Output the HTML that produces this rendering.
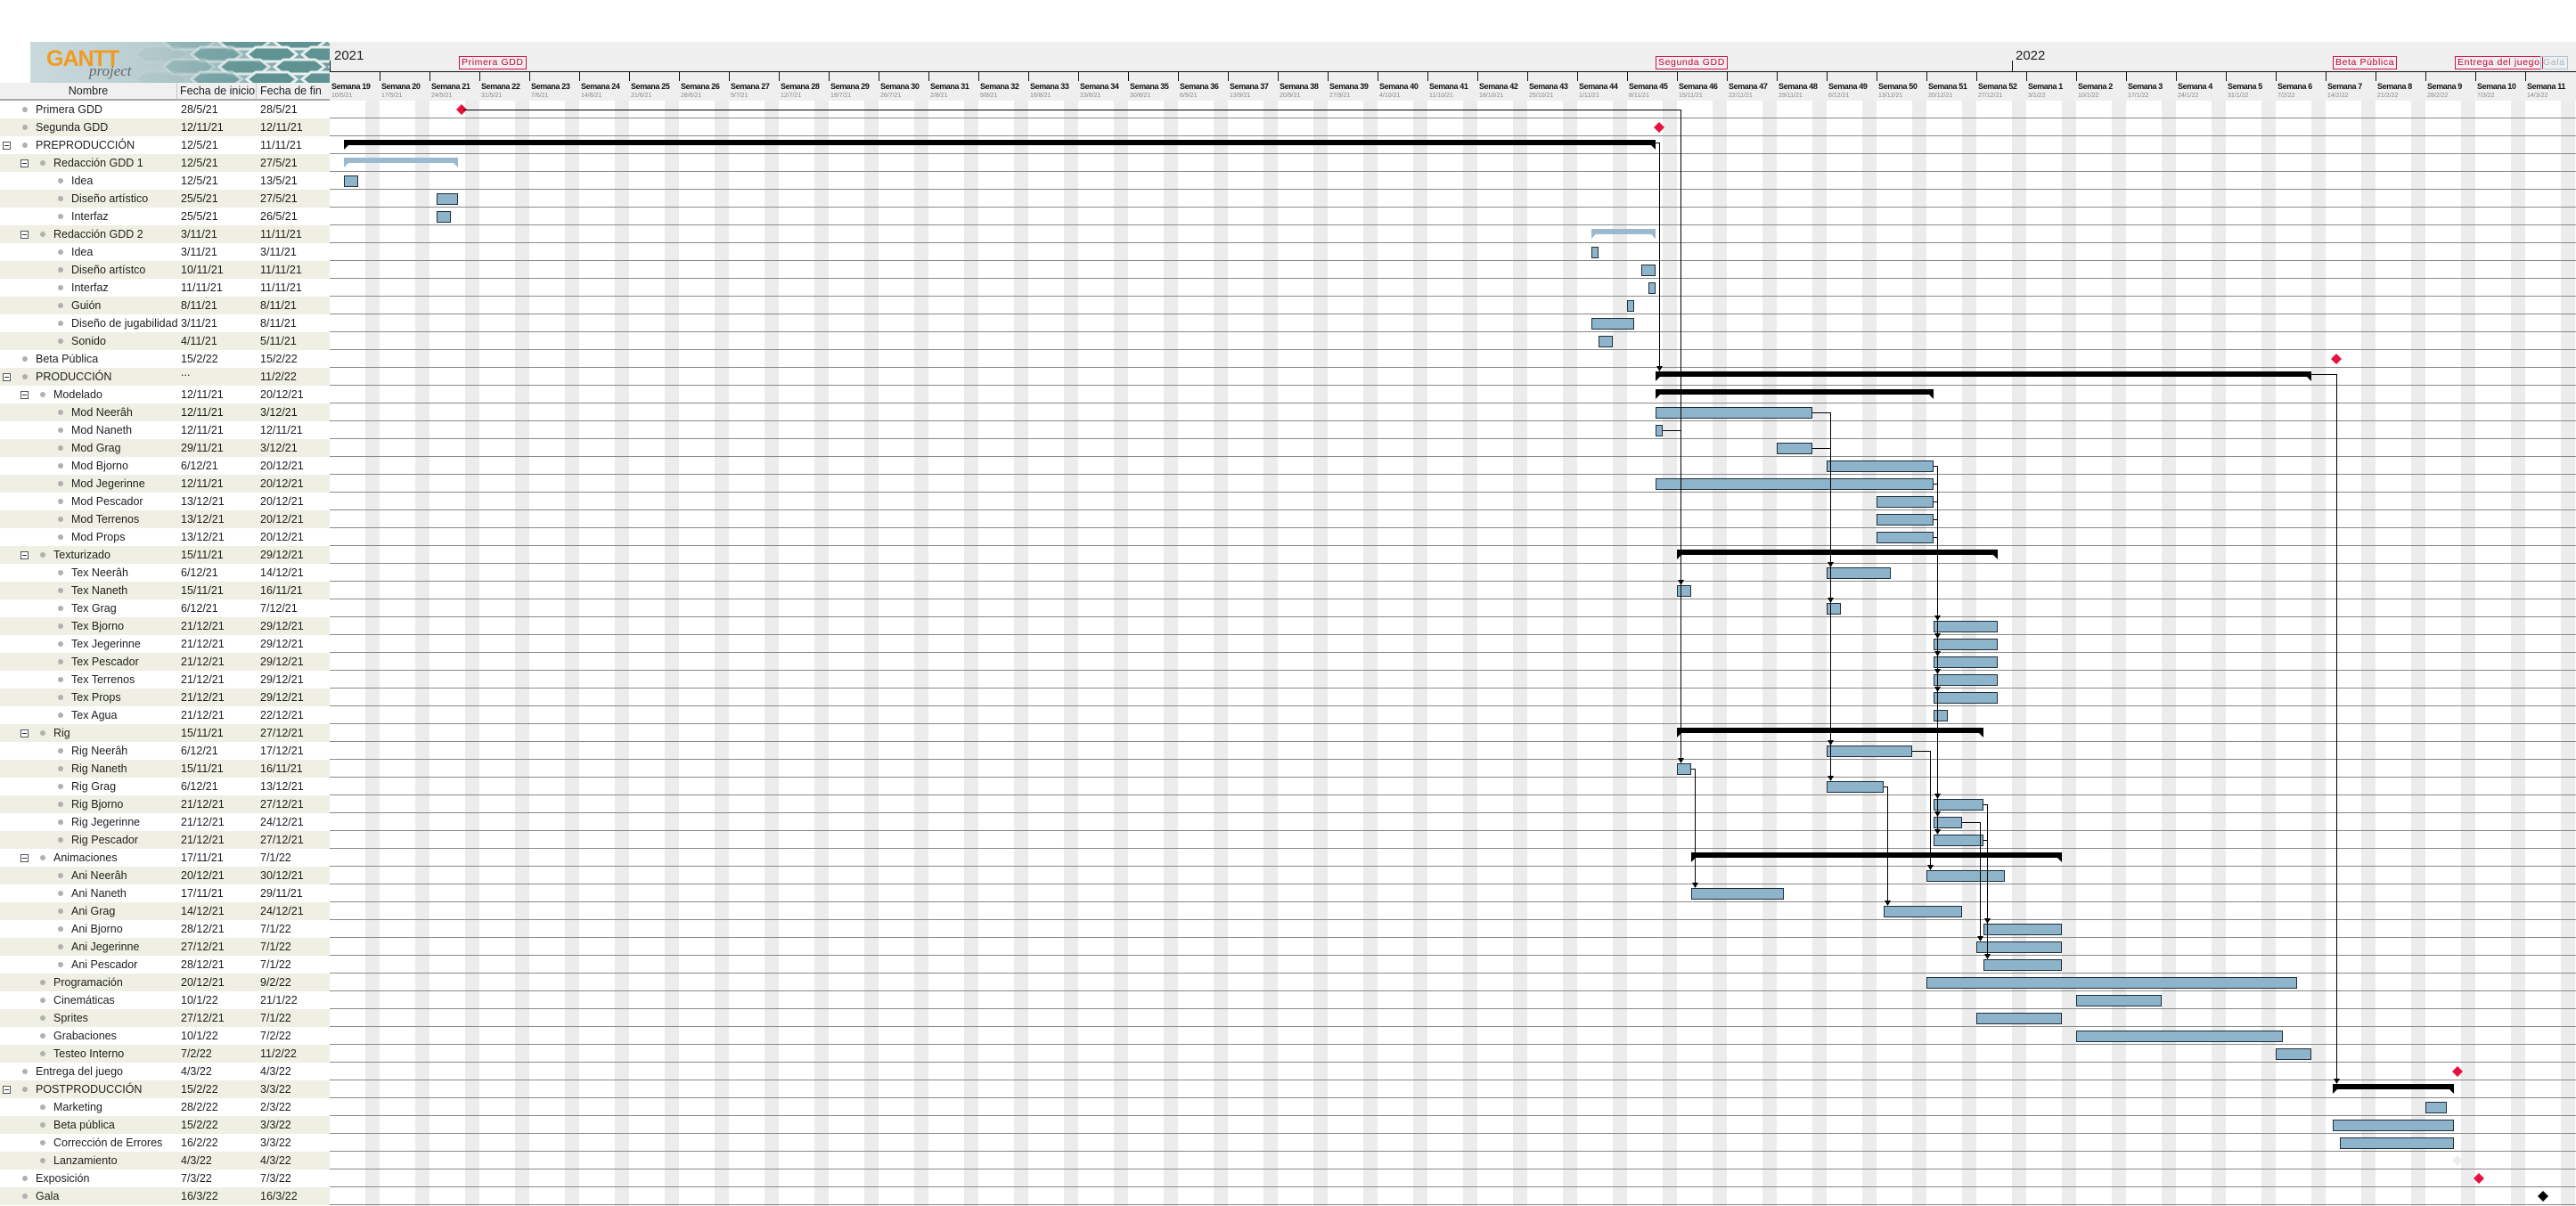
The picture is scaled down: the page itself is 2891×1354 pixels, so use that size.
<!DOCTYPE html>
<html><head><meta charset="utf-8">
<style>
*{margin:0;padding:0;box-sizing:border-box}
body{width:2891px;height:1354px;position:relative;background:#fff;overflow:hidden;font-family:"Liberation Sans",sans-serif;color:#1e1e1e}
#chartbg{position:absolute;left:370px;top:47px;width:2521px;height:66px;background:#efefef}
#svg{position:absolute;left:0;top:0}
.hdr{position:absolute;top:93px;height:20px;background:#f0f0f0;font-size:12.5px;line-height:19px;border-bottom:2px solid #a8a8a8;white-space:nowrap;overflow:hidden}
.row{position:absolute;left:0;width:370px;height:20px;font-size:12.5px;line-height:20px}
.row.b{background:#efefe3}
.row span{position:absolute;white-space:nowrap}
.row .s{left:203px}.row .e{left:292px}
.bul{position:absolute;width:6px;height:6px;border-radius:50%;background:#b0b0b0;top:7px}
.tg{position:absolute;width:9px;height:9px;border:1px solid #555;top:6px;background:#fff}
.tg:after{content:"";position:absolute;left:1px;top:3px;width:5px;height:1px;background:#333}
.wk{position:absolute;top:92px;font-size:9px;font-weight:bold;letter-spacing:-0.4px;white-space:nowrap;color:#111}
.dt{position:absolute;top:104px;font-size:7px;color:#888;white-space:nowrap}
.ms{position:absolute;top:63px;height:15px;border:1px solid #d0104c;color:#c8003c;font-size:10.5px;line-height:13px;padding:0 2px;letter-spacing:0.6px;white-space:nowrap}
.yr{position:absolute;top:54px;font-size:15px;color:#222}
</style></head><body>
<div id="chartbg"></div>
<svg id="svg" width="2891" height="1354" xmlns="http://www.w3.org/2000/svg">
<defs>
<linearGradient id="lg" x1="0" x2="1" y1="0" y2="0"><stop offset="0" stop-color="#c9d9dc"/><stop offset="0.45" stop-color="#b7cccf"/><stop offset="1" stop-color="#6f9d9e"/></linearGradient>
<clipPath id="lc"><rect x="34" y="47" width="336" height="46"/></clipPath>
</defs>
<rect x="34" y="47" width="336" height="46" fill="url(#lg)"/>
<g clip-path="url(#lc)" id="hex"></g>
<g id="g"></g>
</svg>
<div style="position:absolute;left:52px;top:52px;font-size:25px;font-weight:bold;color:#f39a1e;letter-spacing:-1px">GANTT</div>
<div style="position:absolute;left:100px;top:70px;font-size:17px;font-style:italic;font-family:'Liberation Serif',serif;color:#666">project</div>

<div class="hdr" style="left:0;width:199px;text-align:center;border-right:1px solid #c8c8c8">Nombre</div>
<div class="hdr" style="left:199px;width:89px;padding-left:3px;border-right:1px solid #c8c8c8">Fecha de inicio</div>
<div class="hdr" style="left:288px;width:82px;padding-left:4px">Fecha de fin</div>

<div class="yr" style="left:375px">2021</div>
<div class="yr" style="left:2262px">2022</div>
<div class="ms" style="left:515px">Primera GDD</div>
<div class="ms" style="left:1858px">Segunda GDD</div>
<div class="ms" style="left:2618px">Beta Pública</div>
<div class="ms" style="left:2755px">Entrega del juego</div>
<div class="ms" style="left:2851px;border-color:#a8c4dc;color:#a8b4c0">Gala</div>

<div class="wk" style="left:372px">Semana 19</div><div class="dt" style="left:372px">10/5/21</div>
<div class="wk" style="left:428px">Semana 20</div><div class="dt" style="left:428px">17/5/21</div>
<div class="wk" style="left:484px">Semana 21</div><div class="dt" style="left:484px">24/5/21</div>
<div class="wk" style="left:540px">Semana 22</div><div class="dt" style="left:540px">31/5/21</div>
<div class="wk" style="left:596px">Semana 23</div><div class="dt" style="left:596px">7/6/21</div>
<div class="wk" style="left:652px">Semana 24</div><div class="dt" style="left:652px">14/6/21</div>
<div class="wk" style="left:708px">Semana 25</div><div class="dt" style="left:708px">21/6/21</div>
<div class="wk" style="left:764px">Semana 26</div><div class="dt" style="left:764px">28/6/21</div>
<div class="wk" style="left:820px">Semana 27</div><div class="dt" style="left:820px">5/7/21</div>
<div class="wk" style="left:876px">Semana 28</div><div class="dt" style="left:876px">12/7/21</div>
<div class="wk" style="left:932px">Semana 29</div><div class="dt" style="left:932px">19/7/21</div>
<div class="wk" style="left:988px">Semana 30</div><div class="dt" style="left:988px">26/7/21</div>
<div class="wk" style="left:1044px">Semana 31</div><div class="dt" style="left:1044px">2/8/21</div>
<div class="wk" style="left:1100px">Semana 32</div><div class="dt" style="left:1100px">9/8/21</div>
<div class="wk" style="left:1156px">Semana 33</div><div class="dt" style="left:1156px">16/8/21</div>
<div class="wk" style="left:1212px">Semana 34</div><div class="dt" style="left:1212px">23/8/21</div>
<div class="wk" style="left:1268px">Semana 35</div><div class="dt" style="left:1268px">30/8/21</div>
<div class="wk" style="left:1324px">Semana 36</div><div class="dt" style="left:1324px">6/9/21</div>
<div class="wk" style="left:1380px">Semana 37</div><div class="dt" style="left:1380px">13/9/21</div>
<div class="wk" style="left:1436px">Semana 38</div><div class="dt" style="left:1436px">20/9/21</div>
<div class="wk" style="left:1492px">Semana 39</div><div class="dt" style="left:1492px">27/9/21</div>
<div class="wk" style="left:1548px">Semana 40</div><div class="dt" style="left:1548px">4/10/21</div>
<div class="wk" style="left:1604px">Semana 41</div><div class="dt" style="left:1604px">11/10/21</div>
<div class="wk" style="left:1660px">Semana 42</div><div class="dt" style="left:1660px">18/10/21</div>
<div class="wk" style="left:1716px">Semana 43</div><div class="dt" style="left:1716px">25/10/21</div>
<div class="wk" style="left:1772px">Semana 44</div><div class="dt" style="left:1772px">1/11/21</div>
<div class="wk" style="left:1828px">Semana 45</div><div class="dt" style="left:1828px">8/11/21</div>
<div class="wk" style="left:1884px">Semana 46</div><div class="dt" style="left:1884px">15/11/21</div>
<div class="wk" style="left:1940px">Semana 47</div><div class="dt" style="left:1940px">22/11/21</div>
<div class="wk" style="left:1996px">Semana 48</div><div class="dt" style="left:1996px">29/11/21</div>
<div class="wk" style="left:2052px">Semana 49</div><div class="dt" style="left:2052px">6/12/21</div>
<div class="wk" style="left:2108px">Semana 50</div><div class="dt" style="left:2108px">13/12/21</div>
<div class="wk" style="left:2164px">Semana 51</div><div class="dt" style="left:2164px">20/12/21</div>
<div class="wk" style="left:2220px">Semana 52</div><div class="dt" style="left:2220px">27/12/21</div>
<div class="wk" style="left:2276px">Semana 1</div><div class="dt" style="left:2276px">3/1/22</div>
<div class="wk" style="left:2332px">Semana 2</div><div class="dt" style="left:2332px">10/1/22</div>
<div class="wk" style="left:2388px">Semana 3</div><div class="dt" style="left:2388px">17/1/22</div>
<div class="wk" style="left:2444px">Semana 4</div><div class="dt" style="left:2444px">24/1/22</div>
<div class="wk" style="left:2500px">Semana 5</div><div class="dt" style="left:2500px">31/1/22</div>
<div class="wk" style="left:2556px">Semana 6</div><div class="dt" style="left:2556px">7/2/22</div>
<div class="wk" style="left:2612px">Semana 7</div><div class="dt" style="left:2612px">14/2/22</div>
<div class="wk" style="left:2668px">Semana 8</div><div class="dt" style="left:2668px">21/2/22</div>
<div class="wk" style="left:2724px">Semana 9</div><div class="dt" style="left:2724px">28/2/22</div>
<div class="wk" style="left:2780px">Semana 10</div><div class="dt" style="left:2780px">7/3/22</div>
<div class="wk" style="left:2836px">Semana 11</div><div class="dt" style="left:2836px">14/3/22</div>

<div id="tbl">
<div class="row" style="top:113px"><i class="bul" style="left:25px"></i><span style="left:40px">Primera GDD</span><span class="s">28/5/21</span><span class="e">28/5/21</span></div>
<div class="row b" style="top:133px"><i class="bul" style="left:25px"></i><span style="left:40px">Segunda GDD</span><span class="s">12/11/21</span><span class="e">12/11/21</span></div>
<div class="row" style="top:153px"><i class="tg" style="left:3px"></i><i class="bul" style="left:25px"></i><span style="left:40px">PREPRODUCCIÓN</span><span class="s">12/5/21</span><span class="e">11/11/21</span></div>
<div class="row b" style="top:173px"><i class="tg" style="left:23px"></i><i class="bul" style="left:45px"></i><span style="left:60px">Redacción GDD 1</span><span class="s">12/5/21</span><span class="e">27/5/21</span></div>
<div class="row" style="top:193px"><i class="bul" style="left:65px"></i><span style="left:80px">Idea</span><span class="s">12/5/21</span><span class="e">13/5/21</span></div>
<div class="row b" style="top:213px"><i class="bul" style="left:65px"></i><span style="left:80px">Diseño artístico</span><span class="s">25/5/21</span><span class="e">27/5/21</span></div>
<div class="row" style="top:233px"><i class="bul" style="left:65px"></i><span style="left:80px">Interfaz</span><span class="s">25/5/21</span><span class="e">26/5/21</span></div>
<div class="row b" style="top:253px"><i class="tg" style="left:23px"></i><i class="bul" style="left:45px"></i><span style="left:60px">Redacción GDD 2</span><span class="s">3/11/21</span><span class="e">11/11/21</span></div>
<div class="row" style="top:273px"><i class="bul" style="left:65px"></i><span style="left:80px">Idea</span><span class="s">3/11/21</span><span class="e">3/11/21</span></div>
<div class="row b" style="top:293px"><i class="bul" style="left:65px"></i><span style="left:80px">Diseño artístco</span><span class="s">10/11/21</span><span class="e">11/11/21</span></div>
<div class="row" style="top:313px"><i class="bul" style="left:65px"></i><span style="left:80px">Interfaz</span><span class="s">11/11/21</span><span class="e">11/11/21</span></div>
<div class="row b" style="top:333px"><i class="bul" style="left:65px"></i><span style="left:80px">Guión</span><span class="s">8/11/21</span><span class="e">8/11/21</span></div>
<div class="row" style="top:353px"><i class="bul" style="left:65px"></i><span style="left:80px">Diseño de jugabilidad</span><span class="s">3/11/21</span><span class="e">8/11/21</span></div>
<div class="row b" style="top:373px"><i class="bul" style="left:65px"></i><span style="left:80px">Sonido</span><span class="s">4/11/21</span><span class="e">5/11/21</span></div>
<div class="row" style="top:393px"><i class="bul" style="left:25px"></i><span style="left:40px">Beta Pública</span><span class="s">15/2/22</span><span class="e">15/2/22</span></div>
<div class="row b" style="top:413px"><i class="tg" style="left:3px"></i><i class="bul" style="left:25px"></i><span style="left:40px">PRODUCCIÓN</span><span class="s" style="top:-5px">...</span><span class="e">11/2/22</span></div>
<div class="row" style="top:433px"><i class="tg" style="left:23px"></i><i class="bul" style="left:45px"></i><span style="left:60px">Modelado</span><span class="s">12/11/21</span><span class="e">20/12/21</span></div>
<div class="row b" style="top:453px"><i class="bul" style="left:65px"></i><span style="left:80px">Mod Neerâh</span><span class="s">12/11/21</span><span class="e">3/12/21</span></div>
<div class="row" style="top:473px"><i class="bul" style="left:65px"></i><span style="left:80px">Mod Naneth</span><span class="s">12/11/21</span><span class="e">12/11/21</span></div>
<div class="row b" style="top:493px"><i class="bul" style="left:65px"></i><span style="left:80px">Mod Grag</span><span class="s">29/11/21</span><span class="e">3/12/21</span></div>
<div class="row" style="top:513px"><i class="bul" style="left:65px"></i><span style="left:80px">Mod Bjorno</span><span class="s">6/12/21</span><span class="e">20/12/21</span></div>
<div class="row b" style="top:533px"><i class="bul" style="left:65px"></i><span style="left:80px">Mod Jegerinne</span><span class="s">12/11/21</span><span class="e">20/12/21</span></div>
<div class="row" style="top:553px"><i class="bul" style="left:65px"></i><span style="left:80px">Mod Pescador</span><span class="s">13/12/21</span><span class="e">20/12/21</span></div>
<div class="row b" style="top:573px"><i class="bul" style="left:65px"></i><span style="left:80px">Mod Terrenos</span><span class="s">13/12/21</span><span class="e">20/12/21</span></div>
<div class="row" style="top:593px"><i class="bul" style="left:65px"></i><span style="left:80px">Mod Props</span><span class="s">13/12/21</span><span class="e">20/12/21</span></div>
<div class="row b" style="top:613px"><i class="tg" style="left:23px"></i><i class="bul" style="left:45px"></i><span style="left:60px">Texturizado</span><span class="s">15/11/21</span><span class="e">29/12/21</span></div>
<div class="row" style="top:633px"><i class="bul" style="left:65px"></i><span style="left:80px">Tex Neerâh</span><span class="s">6/12/21</span><span class="e">14/12/21</span></div>
<div class="row b" style="top:653px"><i class="bul" style="left:65px"></i><span style="left:80px">Tex Naneth</span><span class="s">15/11/21</span><span class="e">16/11/21</span></div>
<div class="row" style="top:673px"><i class="bul" style="left:65px"></i><span style="left:80px">Tex Grag</span><span class="s">6/12/21</span><span class="e">7/12/21</span></div>
<div class="row b" style="top:693px"><i class="bul" style="left:65px"></i><span style="left:80px">Tex Bjorno</span><span class="s">21/12/21</span><span class="e">29/12/21</span></div>
<div class="row" style="top:713px"><i class="bul" style="left:65px"></i><span style="left:80px">Tex Jegerinne</span><span class="s">21/12/21</span><span class="e">29/12/21</span></div>
<div class="row b" style="top:733px"><i class="bul" style="left:65px"></i><span style="left:80px">Tex Pescador</span><span class="s">21/12/21</span><span class="e">29/12/21</span></div>
<div class="row" style="top:753px"><i class="bul" style="left:65px"></i><span style="left:80px">Tex Terrenos</span><span class="s">21/12/21</span><span class="e">29/12/21</span></div>
<div class="row b" style="top:773px"><i class="bul" style="left:65px"></i><span style="left:80px">Tex Props</span><span class="s">21/12/21</span><span class="e">29/12/21</span></div>
<div class="row" style="top:793px"><i class="bul" style="left:65px"></i><span style="left:80px">Tex Agua</span><span class="s">21/12/21</span><span class="e">22/12/21</span></div>
<div class="row b" style="top:813px"><i class="tg" style="left:23px"></i><i class="bul" style="left:45px"></i><span style="left:60px">Rig</span><span class="s">15/11/21</span><span class="e">27/12/21</span></div>
<div class="row" style="top:833px"><i class="bul" style="left:65px"></i><span style="left:80px">Rig Neerâh</span><span class="s">6/12/21</span><span class="e">17/12/21</span></div>
<div class="row b" style="top:853px"><i class="bul" style="left:65px"></i><span style="left:80px">Rig Naneth</span><span class="s">15/11/21</span><span class="e">16/11/21</span></div>
<div class="row" style="top:873px"><i class="bul" style="left:65px"></i><span style="left:80px">Rig Grag</span><span class="s">6/12/21</span><span class="e">13/12/21</span></div>
<div class="row b" style="top:893px"><i class="bul" style="left:65px"></i><span style="left:80px">Rig Bjorno</span><span class="s">21/12/21</span><span class="e">27/12/21</span></div>
<div class="row" style="top:913px"><i class="bul" style="left:65px"></i><span style="left:80px">Rig Jegerinne</span><span class="s">21/12/21</span><span class="e">24/12/21</span></div>
<div class="row b" style="top:933px"><i class="bul" style="left:65px"></i><span style="left:80px">Rig Pescador</span><span class="s">21/12/21</span><span class="e">27/12/21</span></div>
<div class="row" style="top:953px"><i class="tg" style="left:23px"></i><i class="bul" style="left:45px"></i><span style="left:60px">Animaciones</span><span class="s">17/11/21</span><span class="e">7/1/22</span></div>
<div class="row b" style="top:973px"><i class="bul" style="left:65px"></i><span style="left:80px">Ani Neerâh</span><span class="s">20/12/21</span><span class="e">30/12/21</span></div>
<div class="row" style="top:993px"><i class="bul" style="left:65px"></i><span style="left:80px">Ani Naneth</span><span class="s">17/11/21</span><span class="e">29/11/21</span></div>
<div class="row b" style="top:1013px"><i class="bul" style="left:65px"></i><span style="left:80px">Ani Grag</span><span class="s">14/12/21</span><span class="e">24/12/21</span></div>
<div class="row" style="top:1033px"><i class="bul" style="left:65px"></i><span style="left:80px">Ani Bjorno</span><span class="s">28/12/21</span><span class="e">7/1/22</span></div>
<div class="row b" style="top:1053px"><i class="bul" style="left:65px"></i><span style="left:80px">Ani Jegerinne</span><span class="s">27/12/21</span><span class="e">7/1/22</span></div>
<div class="row" style="top:1073px"><i class="bul" style="left:65px"></i><span style="left:80px">Ani Pescador</span><span class="s">28/12/21</span><span class="e">7/1/22</span></div>
<div class="row b" style="top:1093px"><i class="bul" style="left:45px"></i><span style="left:60px">Programación</span><span class="s">20/12/21</span><span class="e">9/2/22</span></div>
<div class="row" style="top:1113px"><i class="bul" style="left:45px"></i><span style="left:60px">Cinemáticas</span><span class="s">10/1/22</span><span class="e">21/1/22</span></div>
<div class="row b" style="top:1133px"><i class="bul" style="left:45px"></i><span style="left:60px">Sprites</span><span class="s">27/12/21</span><span class="e">7/1/22</span></div>
<div class="row" style="top:1153px"><i class="bul" style="left:45px"></i><span style="left:60px">Grabaciones</span><span class="s">10/1/22</span><span class="e">7/2/22</span></div>
<div class="row b" style="top:1173px"><i class="bul" style="left:45px"></i><span style="left:60px">Testeo Interno</span><span class="s">7/2/22</span><span class="e">11/2/22</span></div>
<div class="row" style="top:1193px"><i class="bul" style="left:25px"></i><span style="left:40px">Entrega del juego</span><span class="s">4/3/22</span><span class="e">4/3/22</span></div>
<div class="row b" style="top:1213px"><i class="tg" style="left:3px"></i><i class="bul" style="left:25px"></i><span style="left:40px">POSTPRODUCCIÓN</span><span class="s">15/2/22</span><span class="e">3/3/22</span></div>
<div class="row" style="top:1233px"><i class="bul" style="left:45px"></i><span style="left:60px">Marketing</span><span class="s">28/2/22</span><span class="e">2/3/22</span></div>
<div class="row b" style="top:1253px"><i class="bul" style="left:45px"></i><span style="left:60px">Beta pública</span><span class="s">15/2/22</span><span class="e">3/3/22</span></div>
<div class="row" style="top:1273px"><i class="bul" style="left:45px"></i><span style="left:60px">Corrección de Errores</span><span class="s">16/2/22</span><span class="e">3/3/22</span></div>
<div class="row b" style="top:1293px"><i class="bul" style="left:45px"></i><span style="left:60px">Lanzamiento</span><span class="s">4/3/22</span><span class="e">4/3/22</span></div>
<div class="row" style="top:1313px"><i class="bul" style="left:25px"></i><span style="left:40px">Exposición</span><span class="s">7/3/22</span><span class="e">7/3/22</span></div>
<div class="row b" style="top:1333px"><i class="bul" style="left:25px"></i><span style="left:40px">Gala</span><span class="s">16/3/22</span><span class="e">16/3/22</span></div>
</div>

<script>
(function(){
var NS="http://www.w3.org/2000/svg",g=document.getElementById('g'),hx=document.getElementById('hex');
function el(t,a,p){var e=document.createElementNS(NS,t);for(var k in a)e.setAttribute(k,a[k]);(p||g).appendChild(e);return e;}
for(var r=-1;r<4;r++){for(var c=0;c<8;c++){var cx=150+c*62+(r%2?31:0),cy=47+r*14;var w=28,h=8;
var op=Math.max(0,Math.min(1,(cx-170)/120));
el('polygon',{points:[cx-w,cy,cx-w+10,cy-h,cx+w-10,cy-h,cx+w,cy,cx+w-10,cy+h,cx-w+10,cy+h].join(','),fill:'#5f9293','fill-opacity':op,stroke:'#e6eeee','stroke-width':3,'stroke-opacity':op},hx);}}
var base=Date.UTC(2021,4,10);
function X(s){var p=s.split('/');var y=+p[2];y=y<100?2000+y:y;return 370+8*Math.round((Date.UTC(y,p[1]-1,+p[0])-base)/864e5);}
function XE(s){return X(s)+8;}
for(var i=0;i<45;i++){el('rect',{x:370+56*i+40,y:113,width:16,height:1241,fill:'#ececec'});}
for(var k=0;k<62;k++){el('rect',{x:370,y:132+20*k,width:2521,height:1,fill:'#8a8a8a'});}
el('rect',{x:370,y:80,width:2521,height:1,fill:'#111'});
el('rect',{x:370,y:68,width:1,height:13,fill:'#111'});
el('rect',{x:2258,y:68,width:1,height:13,fill:'#111'});
for(var i=1;i<45;i++){el('rect',{x:370+56*i,y:80,width:1,height:11,fill:'#111'});}
var T=[[0,'m','28/5/21'],[1,'m','12/11/21'],[2,'s','12/5/21','11/11/21'],[3,'l','12/5/21','27/5/21'],[4,'t','12/5/21','13/5/21'],[5,'t','25/5/21','27/5/21'],[6,'t','25/5/21','26/5/21'],[7,'l','3/11/21','11/11/21'],[8,'t','3/11/21','3/11/21'],[9,'t','10/11/21','11/11/21'],[10,'t','11/11/21','11/11/21'],[11,'t','8/11/21','8/11/21'],[12,'t','3/11/21','8/11/21'],[13,'t','4/11/21','5/11/21'],[14,'m','15/2/22'],[15,'s','12/11/21','11/2/22'],[16,'s','12/11/21','20/12/21'],[17,'t','12/11/21','3/12/21'],[18,'t','12/11/21','12/11/21'],[19,'t','29/11/21','3/12/21'],[20,'t','6/12/21','20/12/21'],[21,'t','12/11/21','20/12/21'],[22,'t','13/12/21','20/12/21'],[23,'t','13/12/21','20/12/21'],[24,'t','13/12/21','20/12/21'],[25,'s','15/11/21','29/12/21'],[26,'t','6/12/21','14/12/21'],[27,'t','15/11/21','16/11/21'],[28,'t','6/12/21','7/12/21'],[29,'t','21/12/21','29/12/21'],[30,'t','21/12/21','29/12/21'],[31,'t','21/12/21','29/12/21'],[32,'t','21/12/21','29/12/21'],[33,'t','21/12/21','29/12/21'],[34,'t','21/12/21','22/12/21'],[35,'s','15/11/21','27/12/21'],[36,'t','6/12/21','17/12/21'],[37,'t','15/11/21','16/11/21'],[38,'t','6/12/21','13/12/21'],[39,'t','21/12/21','27/12/21'],[40,'t','21/12/21','24/12/21'],[41,'t','21/12/21','27/12/21'],[42,'s','17/11/21','7/1/22'],[43,'t','20/12/21','30/12/21'],[44,'t','17/11/21','29/11/21'],[45,'t','14/12/21','24/12/21'],[46,'t','28/12/21','7/1/22'],[47,'t','27/12/21','7/1/22'],[48,'t','28/12/21','7/1/22'],[49,'t','20/12/21','9/2/22'],[50,'t','10/1/22','21/1/22'],[51,'t','27/12/21','7/1/22'],[52,'t','10/1/22','7/2/22'],[53,'t','7/2/22','11/2/22'],[54,'m','4/3/22'],[55,'s','15/2/22','3/3/22'],[56,'t','28/2/22','2/3/22'],[57,'t','15/2/22','3/3/22'],[58,'t','16/2/22','3/3/22'],[59,'f','4/3/22'],[60,'m','7/3/22'],[61,'k','16/3/22']];
function Y(r){return 113+20*r;}
T.forEach(function(t){var y=Y(t[0]),x=X(t[2]);
 if(t[1]=='t'){el('rect',{x:x+0.5,y:y+4.5,width:XE(t[3])-x-1,height:12,fill:'#8eb4cc',stroke:'#1e2e3a','stroke-width':1});}
 else if(t[1]=='s'||t[1]=='l'){var xe=XE(t[3]),c=t[1]=='s'?'#000':'#9bbad2';
  el('rect',{x:x,y:y+4,width:xe-x,height:6,fill:c});
  el('polygon',{points:[x,y+9,x+6,y+9,x,y+15].join(','),fill:c});
  el('polygon',{points:[xe,y+9,xe-6,y+9,xe,y+15].join(','),fill:c});}
 else {var cx=x+4,cy=y+10,col=t[1]=='m'?'#e8103c':t[1]=='k'?'#000':'#eeeeee';
  el('polygon',{points:[cx,cy-6,cx+6,cy,cx,cy+6,cx-6,cy].join(','),fill:col});}
});
function L(pts){el('polyline',{points:pts.join(' '),fill:'none',stroke:'#000','stroke-width':1});}
function A(x,r){var t=Y(r)+4;el('polygon',{points:[x-3.5,t-6,x+3.5,t-6,x,t].join(','),fill:'#000'});}
function C(r){return Y(r)+10.5;}
L([520,C(0),1886.5,C(0),1886.5,Y(37)-2]);L([1866,C(18),1886.5,C(18)]);A(1886.5,27);A(1886.5,37);
L([1858,C(2)-3,1862.5,C(2)-3,1862.5,Y(15)-2]);A(1862.5,15);
L([2034,C(17),2054.5,C(17),2054.5,Y(38)-2]);L([2034,C(19),2054.5,C(19)]);A(2054.5,26);A(2054.5,28);A(2054.5,36);A(2054.5,38);
for(var r=20;r<=24;r++)L([2170,C(r),2174.5,C(r)]);
L([2174.5,C(20),2174.5,Y(41)-2]);[29,30,31,32,33,39,40,41].forEach(function(r){A(2174.5,r);});
L([1898,C(37),1902.5,C(37),1902.5,Y(44)-2]);A(1902.5,44);
L([2146,C(36),2166.5,C(36),2166.5,Y(43)-2]);A(2166.5,43);
L([2114,C(38),2118.5,C(38),2118.5,Y(45)-2]);A(2118.5,45);
L([2226,C(39),2230.5,C(39),2230.5,Y(48)-2]);L([2226,C(41),2230.5,C(41)]);A(2230.5,46);A(2230.5,48);
L([2202,C(40),2222.5,C(40),2222.5,Y(47)-2]);A(2222.5,47);
L([2594,C(15)-3,2622.5,C(15)-3,2622.5,Y(55)-2]);A(2622.5,55);
})();
</script>
</body></html>
